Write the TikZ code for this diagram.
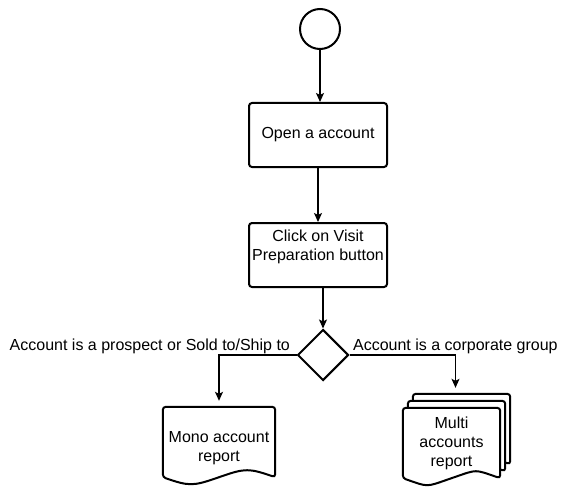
\documentclass[tikz,border=0pt]{standalone}
\usepackage{fontspec}
\setmainfont{Liberation Sans}
\usetikzlibrary{arrows.meta,shapes.geometric,backgrounds}

% one sheet of a document shape, #1 node, #2 shift
\newcommand\docsheet[2]{%
  \draw[sheet] ([shift={#2}]#1.south west)
    .. controls +(26,9) and +(-26,9) .. ([shift={#2}]#1.south)
    .. controls +(26,-9) and +(-26,-9) .. ([shift={#2}]#1.south east)
    -- ([shift={#2}]#1.north east) -- ([shift={#2}]#1.north west) -- cycle;}

\begin{document}
\begin{tikzpicture}[x=1pt,y=-1pt,
  font=\fontsize{16}{19}\selectfont,
  shapeline/.style={draw, line width=2pt},
  startnode/.style={shapeline, circle, minimum size=40pt, inner sep=0pt},
  stepbox/.style={shapeline, rectangle, rounded corners=3pt, minimum width=138pt, minimum height=64pt, align=center},
  decision/.style={shapeline, diamond, minimum width=51pt, minimum height=51pt, inner sep=0pt},
  docbox/.style={minimum height=70pt, inner sep=0pt, align=center},
  sheet/.style={draw, fill=white, line width=2pt, rounded corners=3pt},
  flow/.style={line width=1.2pt, -{Stealth[length=9pt,width=8pt,inset=2pt]}},
  branch/.style={inner sep=1pt}]
  \useasboundingbox (0,0) rectangle (561,489);

  \node[startnode] (start) at (320,29) {};
  \node[stepbox] (open) at (318,135) {Open a account};
  \node[stepbox, label={[align=center,yshift=8pt]center:Click on Visit\\Preparation button}] (visit) at (318,255) {};
  \node[decision] (dec) at (323,355) {};
  \node[docbox, minimum width=112pt, label={[align=center,yshift=-6pt]center:Mono account\\report}] (mono) at (219,442) {};
  \node[docbox, minimum width=97pt] (multi) at (451.5,443) {Multi\\accounts\\report};

  \begin{scope}[on background layer]
    \docsheet{multi}{(10,-14)}
    \docsheet{multi}{(5,-7)}
    \docsheet{multi}{(0,0)}
    \docsheet{mono}{(0,0)}
  \end{scope}

  \draw[flow] (start.south) -- (start.south |- open.north);
  \draw[flow] (open.south) -- (visit.north);
  \draw[flow] (visit.south -| dec.north) -- (dec.north);
  \draw[flow, shorten >=6pt] (dec.west) -| (mono.north)
    node[pos=0, branch, anchor=south east, xshift=-5pt] {Account is a prospect or Sold to/Ship to};
  \draw[flow, shorten >=5pt] (dec.east) -| ([xshift=4pt,yshift=15pt]multi.north)
    node[pos=0, branch, anchor=south west, xshift=2pt] {Account is a corporate group};
\end{tikzpicture}
\end{document}
